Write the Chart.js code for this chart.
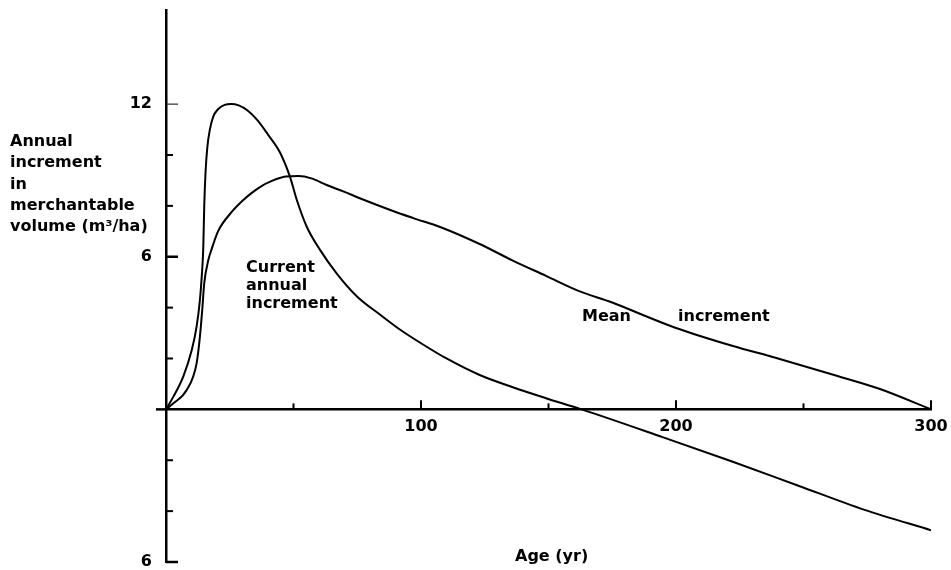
<!DOCTYPE html>
<html>
<head>
<meta charset="utf-8">
<title>Annual increment in merchantable volume</title>
<script src="https://cdn.jsdelivr.net/npm/chart.js@4.4.1/dist/chart.umd.min.js"></script>
<style>
    html, body { margin: 0; padding: 0; background: #fff; }
    #wrap { position: relative; width: 951px; height: 570px; }
</style>
</head>
<body>
<div id="wrap"><canvas id="incrementChart"></canvas></div>
<script>
// Current annual increment
const caiAge   = [0, 2.9, 6.8, 10.1, 12, 13.3, 14, 14.6, 15, 15.5, 16.2, 17.2, 18.5, 20.4, 23, 25.5, 28.5, 32, 36, 40, 44.7, 48.6, 51.3, 55.2, 60.4, 66.9, 74.8, 84, 92, 100, 110, 123, 136, 149, 163, 195, 222, 248, 274, 300];
const caiValue = [0, 0.5, 1.3, 2.33, 3.25, 4.3, 5.2, 6.3, 8.0, 9.3, 10.3, 11.0, 11.5, 11.8, 11.97, 12.0, 11.95, 11.75, 11.35, 10.8, 10.1, 9.15, 8.23, 7.18, 6.27, 5.35, 4.45, 3.72, 3.12, 2.6, 2.0, 1.35, 0.87, 0.44, 0, -1.1, -2.05, -3.0, -3.95, -4.75];

// Mean annual increment
const maiAge   = [0, 2.9, 8.1, 12, 13.3, 14.2, 15, 16.6, 17.9, 20.4, 25.6, 30, 33.5, 37, 41.3, 47, 52, 57, 63, 70, 76, 89, 97, 108, 123, 136, 149, 162, 175, 188, 200, 222, 239, 261, 280, 300];
const maiValue = [0, 0.24, 0.76, 1.81, 2.86, 3.9, 4.96, 5.87, 6.3, 7.0, 7.74, 8.2, 8.5, 8.75, 8.97, 9.15, 9.17, 9.08, 8.82, 8.55, 8.3, 7.8, 7.52, 7.15, 6.5, 5.85, 5.25, 4.65, 4.2, 3.67, 3.2, 2.5, 2.03, 1.38, 0.8, 0];

// Axis ticks and labels
const xMajorTicks = [100, 200, 300];
const xMinorTicks = [50, 150, 250];
const yMajorTicks = [12, 6, -6];
const yMinorTicks = [10, 8, 4, 2, -2, -4];
const yTickLabels = { '12': '12', '6': '6', '-6': '6' };

const yTitleLines = ['Annual', 'increment', 'in', 'merchantable', 'volume (m\u00B3/ha)'];
const xTitle = 'Age (yr)';

const FONT = 'bold 16px "DejaVu Sans", sans-serif';

function toPoints(xs, ys) {
    return xs.map((x, i) => ({ x: x, y: ys[i] }));
}

// inward tick marks, axis titles and curve labels
const decorations = {
    id: 'decorations',
    afterDraw(chart) {
        const ctx = chart.ctx;
        const xs = chart.scales.x;
        const ys = chart.scales.y;
        const x0 = xs.getPixelForValue(0);
        const y0 = ys.getPixelForValue(0);

        ctx.save();
        ctx.strokeStyle = '#000';
        ctx.lineCap = 'butt';

        // x axis runs a little past the y axis on the left
        ctx.lineWidth = 2.5;
        ctx.beginPath(); ctx.moveTo(x0 - 10, y0); ctx.lineTo(x0, y0); ctx.stroke();

        ctx.lineWidth = 2;
        xMajorTicks.forEach(v => {
            const px = xs.getPixelForValue(v);
            ctx.beginPath(); ctx.moveTo(px, y0); ctx.lineTo(px, y0 - 9); ctx.stroke();
        });
        xMinorTicks.forEach(v => {
            const px = xs.getPixelForValue(v);
            ctx.beginPath(); ctx.moveTo(px, y0); ctx.lineTo(px, y0 - 6); ctx.stroke();
        });
        yMajorTicks.forEach(v => {
            const py = ys.getPixelForValue(v);
            ctx.lineWidth = v === 12 ? 1 : 2.5;
            ctx.beginPath(); ctx.moveTo(x0, py); ctx.lineTo(x0 + 12, py); ctx.stroke();
        });
        ctx.lineWidth = 2;
        yMinorTicks.forEach(v => {
            const py = ys.getPixelForValue(v);
            ctx.beginPath(); ctx.moveTo(x0, py); ctx.lineTo(x0 + 7, py); ctx.stroke();
        });

        ctx.fillStyle = '#000';
        ctx.font = FONT;
        ctx.textBaseline = 'middle';
        ctx.textAlign = 'left';

        yTitleLines.forEach((line, i) => ctx.fillText(line, 10, 142 + i * 21.3));

        ctx.fillText('Current', 246, 268);
        ctx.fillText('annual', 246, 286);
        ctx.fillText('increment', 246, 304);
        ctx.fillText('Mean', 582, 317);
        ctx.fillText('increment', 678, 317);

        ctx.fillText(xTitle, 515, 557);
        ctx.restore();
    }
};

new Chart(document.getElementById('incrementChart'), {
    type: 'line',
    data: {
        datasets: [{
            label: 'Current annual increment',
            data: toPoints(caiAge, caiValue),
            borderColor: '#000',
            borderWidth: 2,
            pointRadius: 0,
            cubicInterpolationMode: 'monotone',
            fill: false
        }, {
            label: 'Mean increment',
            data: toPoints(maiAge, maiValue),
            borderColor: '#000',
            borderWidth: 2,
            pointRadius: 0,
            cubicInterpolationMode: 'monotone',
            fill: false
        }]
    },
    options: {
        responsive: true,
        maintainAspectRatio: false,
        animation: false,
        layout: { padding: { left: 0, right: 20, top: 10, bottom: 8 } },
        plugins: {
            legend: { display: false },
            tooltip: { enabled: false }
        },
        scales: {
            x: {
                type: 'linear',
                position: { y: 0 },
                min: 0,
                max: 300,
                grid: { drawOnChartArea: false, drawTicks: false },
                border: { display: true, color: '#000', width: 2.5 },
                ticks: {
                    stepSize: 50,
                    padding: 8,
                    maxRotation: 0,
                    color: '#000',
                    font: { family: 'DejaVu Sans', size: 16, weight: 'bold' },
                    callback: v => xMajorTicks.includes(v) ? String(v) : ''
                },
                afterFit: s => { s.paddingLeft = 0; s.paddingRight = 0; }
            },
            y: {
                type: 'linear',
                min: -6,
                max: 15.7,
                grid: { drawOnChartArea: false, drawTicks: false },
                border: { display: true, color: '#000', width: 2.5 },
                ticks: {
                    stepSize: 2,
                    padding: 14,
                    color: '#000',
                    font: { family: 'DejaVu Sans', size: 16, weight: 'bold' },
                    callback: v => yTickLabels[String(v)] || ''
                },
                afterFit: s => { s.width = 166; s.paddingTop = 0; s.paddingBottom = 0; }
            }
        }
    },
    plugins: [decorations]
});
</script>
</body>
</html>
